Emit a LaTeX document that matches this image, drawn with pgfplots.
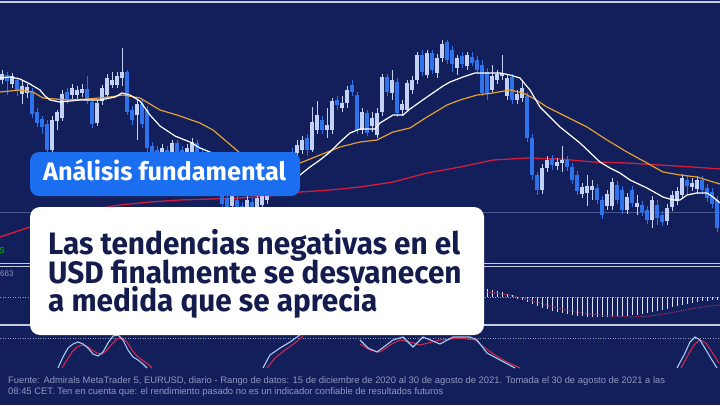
\documentclass[border=0pt]{standalone}
\usepackage{pgfplots}
\pgfplotsset{compat=1.18}
\usepackage{pgfplotstable}
\usepackage{fontspec}
\setmainfont{Liberation Sans}
\newfontfamily\titlefont[FakeStretch=0.96]{Fira Sans}
\newfontfamily\tagfont{Fira Sans}
\definecolor{bg}{HTML}{131F5A}
\definecolor{cup}{HTML}{C3D1F5}
\definecolor{cdn}{HTML}{2F72EA}
\definecolor{maw}{HTML}{FFFFFF}
\definecolor{mao}{HTML}{E3A033}
\definecolor{mar}{HTML}{D21E3E}
\definecolor{boxblue}{HTML}{1C6EF0}
\definecolor{navytxt}{HTML}{141C4E}
\definecolor{foot}{HTML}{8E99C2}
\definecolor{sepl}{HTML}{C4CAE0}
\definecolor{pricel}{HTML}{45578F}
\definecolor{stk}{HTML}{A9C9F4}
\definecolor{std}{HTML}{D0294A}
\definecolor{hist}{HTML}{DCE0F2}
\definecolor{sig}{HTML}{B8345A}

% candles: x, body top, body bottom, wick top, wick bottom (pixel rows)
\pgfplotstableread{
x bt bb wt wb
2 74 80 70 84
12 76 84 73 88
22 86 94 80 104
27 87 93 84 98
52 120 150 116 152
57 112 121 110 130
62 94 118 90 121
72 88 95 84 99
77 90 95 86 100
82 89 93 84 97
97 103 123 100 126
102 88 101 85 105
107 78 95 74 98
112 80 85 72 88
117 76 85 72 88
122 72 78 48 86
137 104 115 100 140
162 148 158 144 162
172 143 153 140 158
187 148 156 144 160
192 142 152 138 156
217 182 190 178 196
232 196 206 192 212
247 200 214 196 218
257 198 208 194 212
262 196 205 192 210
267 188 200 184 204
272 180 192 176 196
282 170 186 166 190
287 158 172 154 176
297 145 153 140 158
302 140 150 136 154
312 122 150 107 152
317 115 130 101 134
327 125 130 108 138
332 101 130 98 134
342 103 108 96 112
347 90 103 86 108
362 112 130 108 134
372 118 126 112 132
377 113 135 108 138
382 77 112 74 116
392 80 93 70 100
402 104 110 100 116
407 83 110 80 112
412 80 90 76 94
417 55 80 52 84
427 53 75 50 78
437 58 73 54 78
442 44 58 40 62
457 58 68 55 75
467 55 66 52 70
492 76 90 65 93
497 74 80 70 84
502 73 76 55 80
507 78 96 74 100
517 94 100 90 104
522 88 98 80 102
542 168 190 164 194
547 160 168 156 172
557 162 166 158 170
562 160 163 146 172
582 187 194 183 198
587 186 193 175 206
592 186 190 180 200
607 194 206 190 210
612 182 206 178 210
627 197 210 193 214
637 203 207 195 215
652 200 220 196 228
667 208 221 204 225
672 195 207 191 211
677 191 201 187 205
682 178 195 174 199
692 183 187 178 191
697 180 189 176 194
}\upc

\pgfplotstableread{
x bt bb wt wb
7 75 81 72 95
17 80 90 77 96
32 92 114 88 118
37 112 123 108 127
42 119 127 116 134
47 124 150 120 154
67 92 100 88 104
87 89 101 76 104
92 102 124 99 128
127 72 112 70 115
132 110 120 106 125
142 104 124 100 128
147 110 148 106 152
152 146 156 142 160
157 150 160 146 165
167 150 158 146 162
177 143 153 140 157
182 150 160 146 164
197 143 156 140 160
202 155 168 150 172
207 166 178 162 182
212 176 190 172 194
222 188 204 184 208
227 198 210 194 214
237 200 212 196 216
242 206 216 202 220
252 202 212 198 216
277 182 190 178 194
292 152 160 148 166
307 138 150 134 156
322 120 130 116 134
337 100 105 96 110
352 85 92 80 96
357 95 130 92 134
367 113 133 110 136
387 77 92 74 96
397 82 113 78 117
422 55 72 50 76
432 53 70 50 74
447 42 60 40 64
452 50 64 46 72
462 56 64 52 68
472 57 63 52 66
477 60 70 56 74
482 65 93 60 96
487 72 93 68 100
512 77 100 74 104
527 96 138 92 142
532 138 175 134 180
537 175 190 172 195
552 159 165 155 170
567 160 167 156 171
572 167 180 163 184
577 175 191 171 195
597 188 200 184 204
602 200 215 196 219
617 185 200 181 204
622 190 210 186 214
632 190 203 186 207
642 205 212 201 216
647 210 220 206 224
657 205 218 200 225
662 215 222 211 226
687 180 186 175 195
702 180 190 176 194
707 188 198 184 202
712 192 204 188 208
717 200 228 196 232
}\dnc

% MACD histogram (pixel row of bar tip; zero line at 297)
\pgfplotstableread{
x v
487 289
492 290
497 291
502 292
507 294
512 295
517 298
522 300
527 302
532 304
537 306
542 308
547 309
552 311
557 312
562 313
567 314
572 315
577 316
582 316
587 317
592 317
597 317
602 317
607 317
612 317
617 316
622 316
627 316
632 315
637 315
642 314
647 313
652 312
657 311
662 310
667 309
672 307
677 306
682 305
687 304
692 303
697 302
702 301
707 301
712 300
717 300
}\macd

\pgfplotsset{
  candle/.style n args={2}{draw=none, mark=none, forget plot,
    error bars/.cd, y dir=both, y explicit, error mark=none,
    error bar style={line width=#1, draw=#2, solid}},
}

\begin{document}
\begin{tikzpicture}
\begin{axis}[
  scale only axis, width=720pt, height=405pt,
  xmin=0, xmax=720, ymin=0, ymax=405, y dir=reverse,
  hide axis, clip=true,
]
\fill[bg] (axis cs:0,0) rectangle (axis cs:720,405);
% panel lines
\draw[sepl, line width=1.2pt] (axis cs:0,2) -- (axis cs:720,2);
\draw[pricel, line width=0.6pt] (axis cs:0,212) -- (axis cs:720,212);
\draw[sepl, line width=0.8pt] (axis cs:0,263) -- (axis cs:720,263);
\draw[sepl, line width=0.8pt] (axis cs:0,266.5) -- (axis cs:720,266.5);
\draw[sepl!70!bg, line width=0.6pt, dash pattern=on 1pt off 1.5pt] (axis cs:0,297) -- (axis cs:720,297);
\draw[sepl, line width=1.2pt] (axis cs:0,325) -- (axis cs:720,325);
\draw[sepl!70!bg, line width=0.6pt, dash pattern=on 1pt off 1.5pt] (axis cs:0,338) -- (axis cs:720,338);

% slow MA (red)
\addplot[mar, line width=1.3pt] coordinates {
(0,237) (30,227) (60,217) (90,210) (120,205) (150,202) (180,200) (210,199) (240,198) (270,196) (300,192) (330,190) (360,187) (393,182) (427,173) (460,167) (493,160) (527,158) (560,159) (593,162) (627,163) (660,165) (693,167) (720,169)};

% candles: wicks then bodies
\addplot[candle={0.8pt}{cup}]
  table[x=x, y expr={(\thisrow{wt}+\thisrow{wb})/2}, y error expr={(\thisrow{wb}-\thisrow{wt})/2}] {\upc};
\addplot[candle={3.2pt}{cup}]
  table[x=x, y expr={(\thisrow{bt}+\thisrow{bb})/2}, y error expr={(\thisrow{bb}-\thisrow{bt})/2}] {\upc};
\addplot[candle={0.8pt}{cdn}]
  table[x=x, y expr={(\thisrow{wt}+\thisrow{wb})/2}, y error expr={(\thisrow{wb}-\thisrow{wt})/2}] {\dnc};
\addplot[candle={3.2pt}{cdn}]
  table[x=x, y expr={(\thisrow{bt}+\thisrow{bb})/2}, y error expr={(\thisrow{bb}-\thisrow{bt})/2}] {\dnc};

% medium MA (orange)
\addplot[mao, line width=1.2pt] coordinates {
(0,92) (20,90) (33,92) (43,98) (67,100) (87,99) (110,97) (123,95) (140,98) (160,110) (177,115) (200,123) (213,130) (233,147) (240,153) (255,160) (270,165) (285,166) (300,163) (320,155) (340,147) (360,142) (377,140) (393,132) (410,128) (427,117) (447,105) (460,100) (477,95) (493,93) (510,90) (523,93) (533,98) (547,107) (567,117) (587,127) (607,140) (627,152) (647,163) (663,172) (680,175) (697,177) (710,181) (720,184)};
% fast MA (white)
\addplot[maw, line width=1.2pt] coordinates {
(0,78) (10,77) (20,79) (30,84) (40,90) (45,96) (50,100) (60,102) (70,101) (80,100) (90,100) (100,100) (110,98) (115,97) (122,93) (130,95) (140,101) (150,115) (160,126) (175,136) (190,142) (200,148) (210,152) (220,160) (240,172) (260,182) (275,188) (290,183) (300,175) (310,167) (320,160) (330,152) (340,142) (350,133) (360,129) (375,129) (380,123) (393,115) (403,115) (410,109) (427,97) (443,86) (450,82) (463,77) (475,73) (500,73) (510,75) (520,78) (530,90) (540,107) (560,127) (580,143) (600,162) (610,168) (620,173) (630,180) (647,188) (663,197) (673,200) (680,200) (687,195) (697,193) (707,193) (713,197) (720,203)};

% MACD histogram and signal
\addplot[candle={0.7pt}{hist}]
  table[x=x, y expr={(297+\thisrow{v})/2}, y error expr={abs(\thisrow{v}-297)/2}] {\macd};
\addplot[sig, line width=0.9pt, dash pattern=on 1.2pt off 1.2pt] coordinates {
(487,292) (510,295) (530,300) (550,306) (570,311) (590,314) (610,316) (630,317) (650,316) (670,313) (690,309) (710,306) (720,305)};

% stochastic (visible pieces)
\addplot[std, line width=1.1pt] coordinates {(62,368) (67,360) (72,352) (77,347) (82,345) (87,346) (92,350) (97,353) (102,354) (107,350) (112,344) (117,339) (122,338) (127,342) (132,350) (137,356) (142,360) (148,364) (152,368)};
\addplot[stk, line width=1.1pt] coordinates {(58,368) (63,357) (68,348) (73,344) (78,342) (83,344) (88,348) (93,354) (98,356) (103,352) (108,343) (113,336) (118,335) (123,340) (128,350) (133,357) (138,360) (143,364) (147,368)};
\addplot[std, line width=1.1pt] coordinates {(267,368) (275,358) (285,350) (295,343) (303,336)};
\addplot[stk, line width=1.1pt] coordinates {(263,368) (270,355) (280,348) (290,342) (300,335)};
\addplot[std, line width=1.1pt] coordinates {(360,344) (370,350) (380,352) (390,345) (400,340) (410,342) (420,345) (440,340) (460,338) (475,340) (485,348) (495,355) (505,361) (520,368)};
\addplot[stk, line width=1.1pt] coordinates {(360,340) (368,348) (377,352) (385,346) (393,340) (403,337) (413,347) (423,337) (440,344) (453,337) (470,337) (477,340) (487,353) (500,360) (515,368)};
\addplot[std, line width=1.1pt] coordinates {(681,368) (688,355) (694,345) (700,340) (706,343) (712,352) (719,363)};
\addplot[stk, line width=1.1pt] coordinates {(677,368) (684,355) (690,342) (695,337) (700,340) (706,350) (712,360) (717,368)};

% left labels
\node[anchor=base west, inner sep=0pt, text=foot, font=\fontsize{8}{8}\selectfont] at (axis cs:0,276) {663};
\node[anchor=base east, inner sep=0pt, text=green!70!black, font=\fontsize{11}{11}\selectfont] at (axis cs:5,253) {s};

% boxes
\fill[boxblue, rounded corners=9pt] (axis cs:30,152) rectangle (axis cs:300,196);
\node[anchor=base west, inner sep=0pt, text=white, font=\tagfont\bfseries\fontsize{25.3}{25.3}\selectfont] at (axis cs:43,180) {Análisis fundamental};
\fill[white, rounded corners=10pt] (axis cs:30,207) rectangle (axis cs:484,335);
\node[anchor=base west, inner sep=0pt, text=navytxt, font=\titlefont\bfseries\fontsize{31}{31}\selectfont] at (axis cs:48,254) {Las tendencias negativas en el};
\node[anchor=base west, inner sep=0pt, text=navytxt, font=\titlefont\bfseries\fontsize{31}{31}\selectfont] at (axis cs:48,283) {USD finalmente se desvanecen};
\node[anchor=base west, inner sep=0pt, text=navytxt, font=\titlefont\bfseries\fontsize{31}{31}\selectfont] at (axis cs:48,311) {a medida que se aprecia};

% footer
\node[anchor=base west, inner sep=0pt, text=foot, font=\fontsize{9.4}{9.4}\selectfont] at (axis cs:8,383) {Fuente: Admirals MetaTrader 5, EURUSD, diario - Rango de datos: 15 de diciembre de 2020 al 30 de agosto de 2021. Tomada el 30 de agosto de 2021 a las};
\node[anchor=base west, inner sep=0pt, text=foot, font=\fontsize{9.4}{9.4}\selectfont] at (axis cs:8,394.5) {08:45 CET. Ten en cuenta que: el rendimiento pasado no es un indicador confiable de resultados futuros};
\end{axis}
\end{tikzpicture}
\end{document}
